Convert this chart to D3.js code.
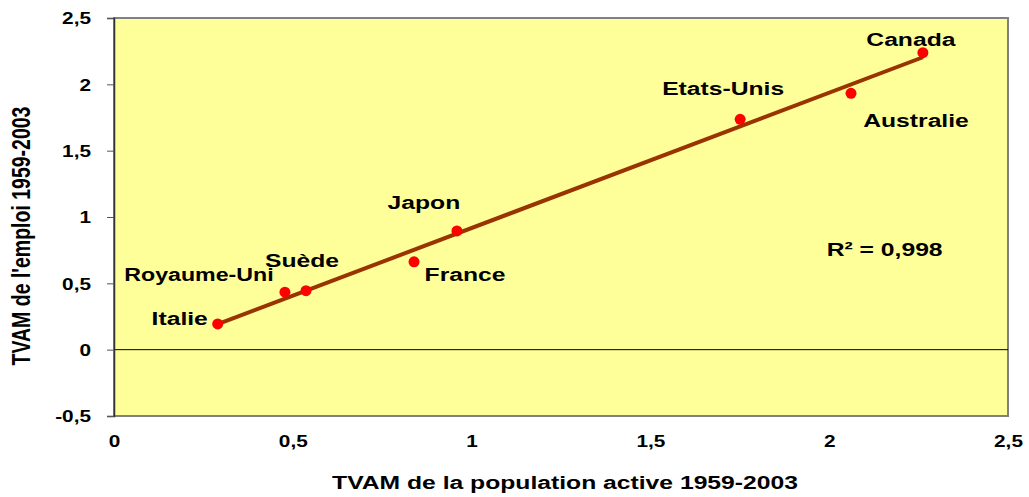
<!DOCTYPE html>
<html>
<head>
<meta charset="utf-8">
<script src="https://cdn.jsdelivr.net/npm/d3@7"></script>
<style>
  body { margin: 0; background: #fff; }
  text { font-family: "Liberation Sans", Arial, sans-serif; font-weight: bold; fill: #000; }
</style>
</head>
<body>
<svg id="chart" width="1029" height="497"></svg>
<script>
// data
var countries = ["Italie", "Royaume-Uni", "Suède", "France", "Japon", "Etats-Unis", "Australie", "Canada"];
var popActive = [0.29, 0.478, 0.537, 0.839, 0.959, 1.751, 2.061, 2.262];
var emploi    = [0.194, 0.433, 0.445, 0.662, 0.895, 1.736, 1.932, 2.239];
// label offsets from the point (px)
var labelDx = [-38, -86, -4, 51, -33, -17, 65, -12];
var labelDy = [-6, -18, -30, 12, -29, -31, 27, -13];
var xTicks = [0, 0.5, 1, 1.5, 2, 2.5];
var yTicks = [-0.5, 0, 0.5, 1, 1.5, 2, 2.5];
var r2Text = "R² = 0,998";

var SX = 1.3; // the original is stretched sideways
var plotL = 114, plotR = 1008, plotT = 18, plotB = 416;

var svg = d3.select("#chart");

var x = d3.scaleLinear().domain([0, 2.5]).range([plotL, plotR]);
var y = d3.scaleLinear().domain([-0.5, 2.5]).range([plotB, plotT]);

// plot background
svg.append("rect")
    .attr("x", plotL).attr("y", plotT)
    .attr("width", plotR - plotL).attr("height", plotB - plotT)
    .attr("fill", "#FFFF99")
    .attr("stroke", "#808080")
    .attr("stroke-width", 2);

// zero line
svg.append("line")
    .attr("x1", plotL).attr("x2", plotR)
    .attr("y1", y(0)).attr("y2", y(0))
    .attr("stroke", "#000").attr("stroke-width", 1);

// y axis
var yAxis = svg.append("g")
    .attr("transform", "translate(" + plotL + ",0)")
    .call(d3.axisLeft(y).tickValues(yTicks).tickSize(7).tickFormat(function (d) { return String(d).replace(".", ","); }));
yAxis.select(".domain").attr("stroke", "#333").attr("stroke-width", 1.5);
yAxis.selectAll(".tick line").attr("stroke", "#555");
yAxis.selectAll("text")
    .attr("font-size", 16)
    .attr("font-family", "Liberation Sans, Arial, sans-serif")
    .attr("x", 0).attr("dy", "0.36em")
    .attr("transform", "translate(-23,0) scale(" + SX + ",1)");

// x axis tick labels (no tick marks in the original)
var xAxis = svg.append("g")
    .attr("transform", "translate(0," + plotB + ")")
    .call(d3.axisBottom(x).tickValues(xTicks).tickSize(0).tickFormat(function (d) { return String(d).replace(".", ","); }));
xAxis.select(".domain").remove();
xAxis.selectAll(".tick text")
    .attr("font-size", 16)
    .attr("font-family", "Liberation Sans, Arial, sans-serif")
    .attr("y", 0).attr("dy", 0)
    .attr("transform", "translate(0,31) scale(" + SX + ",1)");

// trend line (least squares)
var mx = d3.mean(popActive), my = d3.mean(emploi);
var sxy = d3.sum(popActive, function (v, i) { return (v - mx) * (emploi[i] - my); });
var sxx = d3.sum(popActive, function (v) { return (v - mx) * (v - mx); });
var slope = sxy / sxx, icpt = my - slope * mx;
var x0 = d3.min(popActive), x1 = d3.max(popActive);
svg.append("line")
    .attr("x1", x(x0)).attr("y1", y(icpt + slope * x0))
    .attr("x2", x(x1)).attr("y2", y(icpt + slope * x1))
    .attr("stroke", "#993300").attr("stroke-width", 4);

// points
svg.selectAll("circle.pt")
    .data(countries)
    .enter()
    .append("circle")
    .attr("class", "pt")
    .attr("cx", function (d, i) { return x(popActive[i]); })
    .attr("cy", function (d, i) { return y(emploi[i]); })
    .attr("r", 5.5)
    .attr("fill", "#FF0000");

// country labels
svg.selectAll("text.lbl")
    .data(countries)
    .enter()
    .append("text")
    .attr("class", "lbl")
    .attr("font-size", 19)
    .attr("text-anchor", "middle")
    .attr("dy", "0.36em")
    .attr("transform", function (d, i) {
        var sx = d === "Royaume-Uni" ? 1.22 : SX;
        return "translate(" + (x(popActive[i]) + labelDx[i]) + "," + (y(emploi[i]) + labelDy[i]) + ") scale(" + sx + ",1)";
    })
    .text(function (d) { return d; });

// R²
svg.append("text")
    .attr("font-size", 19)
    .attr("text-anchor", "middle")
    .attr("dy", "0.36em")
    .attr("transform", "translate(" + x(2.155) + "," + y(0.76) + ") scale(" + SX + ",1)")
    .text(r2Text);

// axis titles
svg.append("text")
    .attr("font-size", 19)
    .attr("text-anchor", "middle")
    .attr("transform", "translate(565,489) scale(" + SX + ",1)")
    .text("TVAM de la population active 1959-2003");

svg.append("text")
    .attr("font-size", 19.5)
    .attr("text-anchor", "middle")
    .attr("transform", "translate(30,236) scale(1.3,1) rotate(-90)")
    .text("TVAM de l'emploi 1959-2003");
</script>
</body>
</html>
